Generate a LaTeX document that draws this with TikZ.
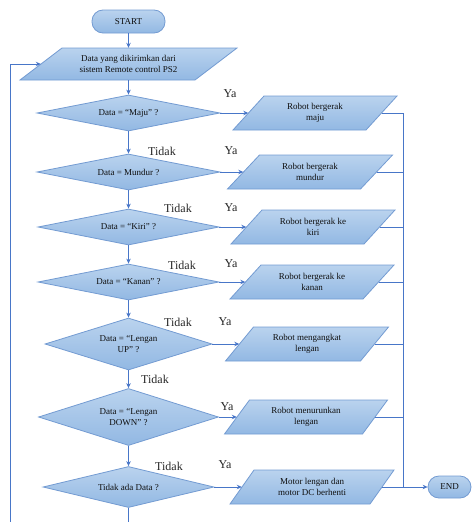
\documentclass[tikz,border=0pt]{standalone}
\usepackage{fontspec}
\setmainfont{Liberation Serif}
\usetikzlibrary{arrows.meta,shapes.geometric,calc}
\definecolor{linec}{RGB}{72,118,200}
\definecolor{edgec}{RGB}{115,155,210}
\definecolor{topc}{RGB}{186,211,238}
\definecolor{botc}{RGB}{146,184,227}
\definecolor{txtc}{RGB}{15,15,15}
\tikzset{
  shapefill/.style={draw=edgec, line width=0.8pt, top color=topc, bottom color=botc},
  term/.style={shapefill, rectangle, rounded corners=11pt, inner sep=0pt,
    font=\fontsize{9}{11}\selectfont, text=txtc},
  decision/.style={shapefill, diamond, shape aspect=4, inner sep=1pt, align=center,
    font=\fontsize{9}{11}\selectfont, text=txtc},
  iotext/.style={rectangle, inner sep=0pt, align=center,
    font=\fontsize{9}{11}\selectfont, text=txtc},
  flow/.style={draw=linec, line width=0.8pt, -{Stealth[length=5pt,width=4.5pt]}},
  plainline/.style={draw=linec, line width=0.8pt},
  lab/.style={font=\fontsize{12}{14}\selectfont, text=black!85, inner sep=0pt}
}
% name, cx, cy, width, height, slant, text
\newcommand\ioshape[7]{%
  \path[shapefill] ({#2-#4/2+#6/2},{#3-#5/2}) -- ({#2+#4/2+#6/2},{#3-#5/2})
    -- ({#2+#4/2-#6/2},{#3+#5/2}) -- ({#2-#4/2-#6/2},{#3+#5/2}) -- cycle;
  \node[iotext, minimum width=#4pt, minimum height=#5pt] (#1) at (#2,#3) {#7};
}
\begin{document}
\begin{tikzpicture}[x=1pt,y=-1pt]
\useasboundingbox (0,0) rectangle (473,522);

% terminals
\node[term, minimum width=73pt, minimum height=23pt] (start) at (128.5,21.5) {START};
\node[term, minimum width=43pt, minimum height=22pt] (end) at (449.5,487) {END};

% input
\ioshape{in}{128.5}{64}{175}{32}{42}{Data yang dikirimkan dari\\sistem Remote control PS2}

% decisions
\node[decision, minimum width=183pt, minimum height=36pt] (d1) at (128.5,113) {Data = “Maju” ?};
\node[decision, minimum width=183pt, minimum height=36pt] (d2) at (128.5,172) {Data = Mundur ?};
\node[decision, minimum width=181pt, minimum height=36pt] (d3) at (128.5,227) {Data = “Kiri” ?};
\node[decision, minimum width=181pt, minimum height=36pt] (d4) at (128.5,282) {Data = “Kanan” ?};
\node[decision, minimum width=167pt, minimum height=52pt] (d5) at (128.5,344) {Data = “Lengan\\UP” ?};
\node[decision, minimum width=180pt, minimum height=57pt] (d6) at (128.5,417) {Data = “Lengan\\DOWN” ?};
\node[decision, minimum width=171pt, minimum height=41pt] (d7) at (128.5,487) {Tidak ada Data ?};

% processes
\ioshape{p1}{315}{113}{133}{34}{31}{Robot bergerak\\maju}
\ioshape{p2}{310}{172}{133}{34}{32}{Robot bergerak\\mundur}
\ioshape{p3}{313}{227}{133}{34}{31}{Robot bergerak ke\\kiri}
\ioshape{p4}{312}{282}{133}{34}{31}{Robot bergerak ke\\kanan}
\ioshape{p5}{307}{344}{135}{34}{28}{Robot mengangkat\\lengan}
\ioshape{p6}{306}{417}{138}{34}{25}{Robot menurunkan\\lengan}
\ioshape{p7}{312}{487}{140}{34}{24}{Motor lengan dan\\motor DC berhenti}

% coordinates
\coordinate (bus) at (403,0);
\coordinate (loopbot) at (10,522);
\coordinate (d7end) at (128.5,522);

% main flow
\draw[flow] (start) -- (in);
\draw[flow] (in) -- (d1);
\draw[flow] (d1) -- (d2);
\draw[flow] (d2) -- (d3);
\draw[flow] (d3) -- (d4);
\draw[flow] (d4) -- (d5);
\draw[flow] (d5) -- (d6);
\draw[flow] (d6) -- (d7);
\draw[plainline] (d7.south) -- (d7end);
\draw[flow] (loopbot) |- (in.west);

% yes branches
\foreach \i in {1,...,7} {
  \draw[flow] (d\i.east) -- (p\i.west);
  \draw[plainline] (p\i.east) -- (p\i.east -| bus);
}
\draw[plainline] (p1.east -| bus) -- (p7.east -| bus);
\draw[flow] (p7.east -| bus) -- (end.west);

% labels
\node[lab] (ya1) at (230,94) {Ya};
\node[lab] (ya2) at (231,151) {Ya};
\node[lab] (ya3) at (231,208) {Ya};
\node[lab] (ya4) at (231,264) {Ya};
\node[lab] (ya5) at (225,322) {Ya};
\node[lab] (ya6) at (227,407) {Ya};
\node[lab] (ya7) at (225,465) {Ya};
\node[lab] (t1) at (162,151) {Tidak};
\node[lab] (t2) at (178,208) {Tidak};
\node[lab] (t3) at (182,265) {Tidak};
\node[lab] (t4) at (178,322) {Tidak};
\node[lab] (t5) at (155,379) {Tidak};
\node[lab] (t6) at (169,466) {Tidak};
\end{tikzpicture}
\end{document}
